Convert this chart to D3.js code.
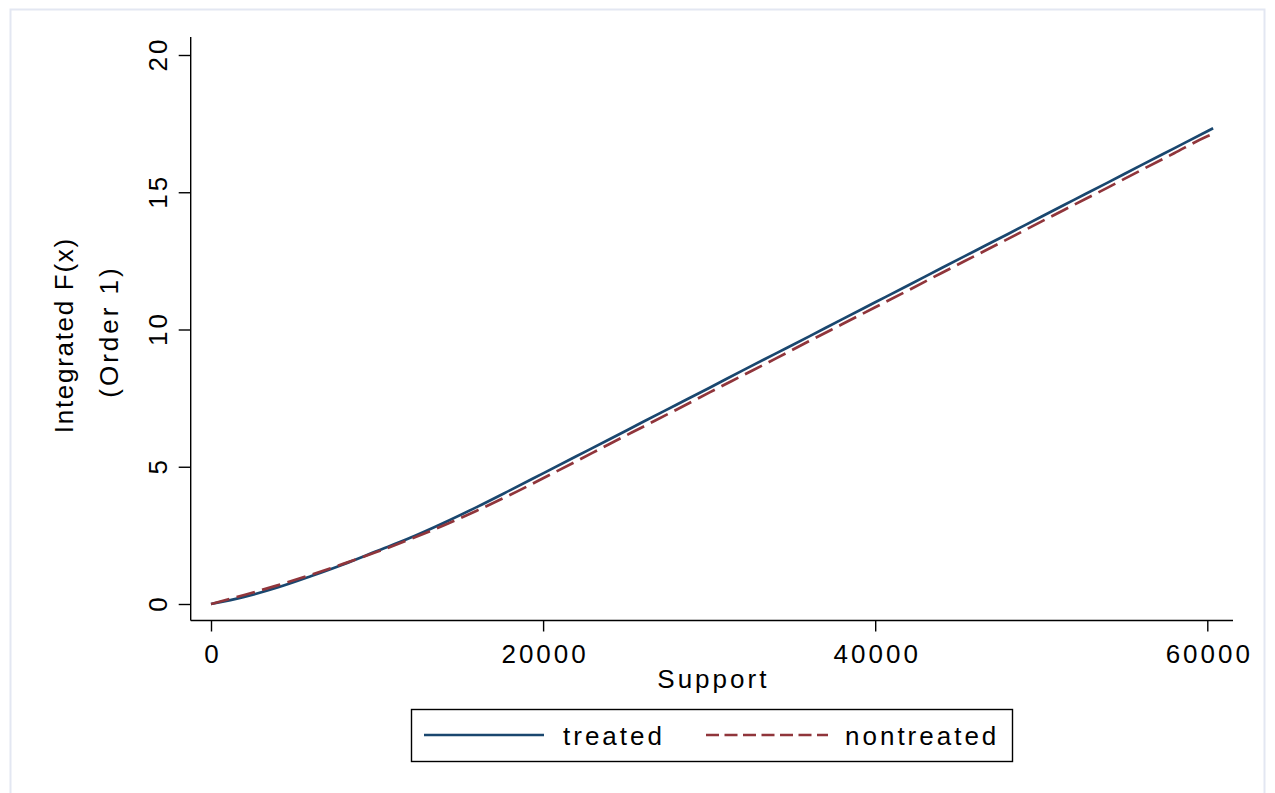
<!DOCTYPE html>
<html>
<head>
<meta charset="utf-8">
<script src="https://cdn.jsdelivr.net/npm/d3@7"></script>
<style>
  body { margin: 0; background: #fff; }
  svg text { font-family: "Liberation Sans", Arial, Helvetica, sans-serif; fill: #000; }
</style>
</head>
<body>
<svg id="chart" width="1275" height="793"></svg>
<script>
// support points (x) and integrated F(x), order 1, per group
var support = [0, 2000, 4000, 6000, 8000, 10000, 12000, 14000, 16000, 18000,
  20000, 22000, 24000, 26000, 28000, 30000, 32000, 34000, 36000, 38000,
  40000, 42000, 44000, 46000, 48000, 50000, 52000, 54000, 56000, 58000,
  60000, 60350];
var treated = [0, 0.26, 0.60, 1.01, 1.45, 1.93, 2.41, 2.95, 3.53, 4.14,
  4.76, 5.38, 6.00, 6.63, 7.25, 7.87, 8.50, 9.12, 9.74, 10.37,
  10.99, 11.61, 12.24, 12.86, 13.48, 14.11, 14.73, 15.35, 15.98, 16.60,
  17.22, 17.33];
var nontreated = [0, 0.33, 0.68, 1.06, 1.47, 1.90, 2.36, 2.86, 3.40, 3.97,
  4.58, 5.20, 5.83, 6.45, 7.07, 7.70, 8.32, 8.94, 9.57, 10.19,
  10.81, 11.43, 12.06, 12.68, 13.30, 13.93, 14.55, 15.17, 15.80, 16.42,
  17.04, 17.13];
var xTicks = [0, 20000, 40000, 60000];
var yTicks = [0, 5, 10, 15, 20];
var seriesNames = ["treated", "nontreated"];

var params = {
  fontSize: 26,
  spacing: 3,
  navy: "#1a476f",
  maroon: "#90353b"
};

var svg = d3.select("#chart");

// light outer frame (graph region)
svg.append("rect")
  .attr("x", 10.5).attr("y", 9.5)
  .attr("width", 1254).attr("height", 800)
  .attr("fill", "#fff")
  .attr("stroke", "#e3e7f2")
  .attr("stroke-width", 2);

var x = d3.scaleLinear().domain([0, 60000]).range([211, 1207.3]);
var y = d3.scaleLinear().domain([0, 20]).range([604, 55]);

// plot region extents
var plotLeft = 190.7, plotRight = 1233, plotTop = 37, plotBottom = 620.5;

// axes lines
svg.append("line")
  .attr("x1", plotLeft).attr("x2", plotLeft)
  .attr("y1", plotTop).attr("y2", plotBottom)
  .attr("stroke", "#000").attr("stroke-width", 1.4);
svg.append("line")
  .attr("x1", plotLeft).attr("x2", plotRight)
  .attr("y1", plotBottom).attr("y2", plotBottom)
  .attr("stroke", "#000").attr("stroke-width", 1.4);

// x axis ticks
var xAxis = svg.append("g")
  .attr("transform", "translate(0," + plotBottom + ")")
  .call(d3.axisBottom(x).tickValues(xTicks).tickSize(11).tickSizeOuter(0).tickFormat(d3.format("d")));
xAxis.select(".domain").remove();
xAxis.selectAll(".tick line").attr("stroke", "#000").attr("stroke-width", 1.4);
xAxis.selectAll(".tick text")
  .attr("y", 42.5).attr("dy", 0)
  .attr("dx", params.spacing / 2)
  .style("font-size", params.fontSize + "px")
  .style("letter-spacing", params.spacing + "px")
  .style("font-family", '"Liberation Sans", Arial, sans-serif');

// y axis ticks
var yAxis = svg.append("g")
  .attr("transform", "translate(" + plotLeft + ",0)")
  .call(d3.axisLeft(y).tickValues(yTicks).tickSize(12).tickSizeOuter(0).tickFormat(d3.format("d")));
yAxis.select(".domain").remove();
yAxis.selectAll(".tick line").attr("stroke", "#000").attr("stroke-width", 1.4);
yAxis.selectAll(".tick text")
  .attr("x", null).attr("dy", null)
  .attr("text-anchor", "middle")
  .attr("transform", "translate(-24,0) rotate(-90)")
  .attr("dx", params.spacing / 2)
  .style("font-size", params.fontSize + "px")
  .style("letter-spacing", params.spacing + "px")
  .style("font-family", '"Liberation Sans", Arial, sans-serif');

// axis titles
svg.append("text")
  .attr("x", (plotLeft + plotRight) / 2 + params.spacing / 2)
  .attr("y", 688)
  .attr("text-anchor", "middle")
  .style("font-size", params.fontSize + "px")
  .style("letter-spacing", params.spacing + "px")
  .text("Support");

var yTitle = [
  { text: "Integrated F(x)", base: 73, mid: 336, ls: 1.7 },
  { text: "(Order 1)", base: 118, mid: 333, ls: 3 }
];
svg.selectAll("text.ytitle").data(yTitle).enter().append("text")
  .attr("class", "ytitle")
  .attr("text-anchor", "middle")
  .attr("transform", function(d) {
    return "translate(" + d.base + "," + d.mid + ") rotate(-90)";
  })
  .attr("dx", function(d) { return d.ls / 2; })
  .style("font-size", params.fontSize + "px")
  .style("letter-spacing", function(d) { return d.ls + "px"; })
  .text(function(d) { return d.text; });

// curves
var line = d3.line()
  .x(function(d) { return x(d[0]); })
  .y(function(d) { return y(d[1]); })
  .curve(d3.curveMonotoneX);

var series = [
  { name: seriesNames[0], values: d3.zip(support, treated), color: params.navy, dash: null },
  { name: seriesNames[1], values: d3.zip(support, nontreated), color: params.maroon, dash: "19,7.5" }
];

svg.selectAll("path.series").data(series).enter().append("path")
  .attr("class", "series")
  .attr("d", function(d) { return line(d.values); })
  .attr("fill", "none")
  .attr("stroke", function(d) { return d.color; })
  .attr("stroke-width", 2.7)
  .attr("stroke-dasharray", function(d) { return d.dash; });

// legend
var legend = svg.append("g");
legend.append("rect")
  .attr("x", 411.5).attr("y", 709.5)
  .attr("width", 601).attr("height", 52)
  .attr("fill", "#fff").attr("stroke", "#000").attr("stroke-width", 1.4);

var keys = [
  { name: seriesNames[0], x1: 424, x2: 544, tx: 563, color: params.navy, dash: null },
  { name: seriesNames[1], x1: 706, x2: 828, tx: 845, color: params.maroon, dash: "13,5.5" }
];
keys.forEach(function(k) {
  legend.append("line")
    .attr("x1", k.x1).attr("x2", k.x2)
    .attr("y1", 735).attr("y2", 735)
    .attr("stroke", k.color).attr("stroke-width", 2.6)
    .attr("stroke-dasharray", k.dash);
  legend.append("text")
    .attr("x", k.tx).attr("y", 745)
    .style("font-size", params.fontSize + "px")
    .style("letter-spacing", params.spacing + "px")
    .text(k.name);
});
</script>
</body>
</html>
